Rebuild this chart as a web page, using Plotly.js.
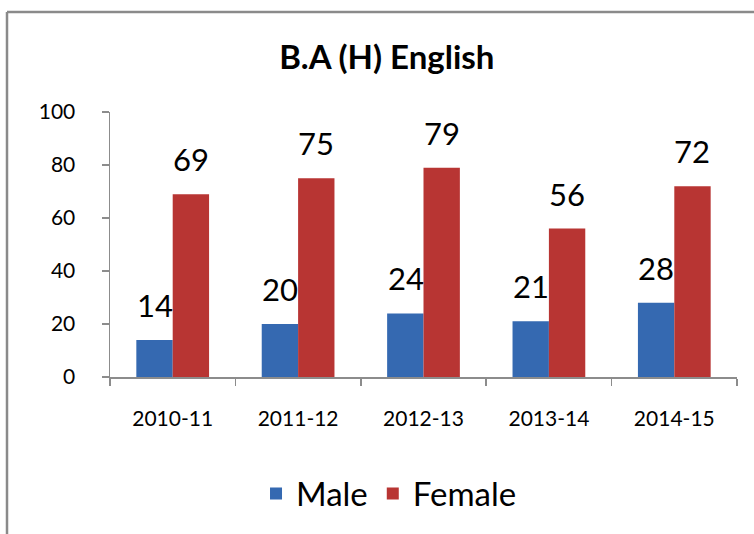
<!DOCTYPE html>
<html>
<head>
<meta charset="utf-8">
<script src="https://cdn.plot.ly/plotly-3.0.1.min.js"></script>
<style>html,body{margin:0;padding:0;background:#fff;}#chart{width:754px;height:534px;}</style>
</head>
<body>
<div id="chart"></div>
<script>
var categories = ["2010-11", "2011-12", "2012-13", "2013-14", "2014-15"];
var maleValues = [14, 20, 24, 21, 28];
var femaleValues = [69, 75, 79, 56, 72];
var yTicks = [0, 20, 40, 60, 80, 100];

var FONT = "Lato, 'Open Sans', sans-serif";

var traces = [
  {
    type: "bar", name: "Male", x: categories, y: maleValues,
    marker: {color: "#3569b1"}
  },
  {
    type: "bar", name: "Female", x: categories, y: femaleValues,
    marker: {color: "#b83533"}
  }
];

var annotations = [];
categories.forEach(function (c, i) {
  annotations.push({x: c, y: maleValues[i], xref: "x", yref: "y", text: String(maleValues[i]),
    showarrow: false, xshift: -18, yshift: 14, yanchor: "bottom", xanchor: "center",
    font: {size: 31, color: "#000", family: FONT}});
  annotations.push({x: c, y: femaleValues[i], xref: "x", yref: "y", text: String(femaleValues[i]),
    showarrow: false, xshift: 18, yshift: 14, yanchor: "bottom", xanchor: "center",
    font: {size: 31, color: "#000", family: FONT}});
});

var layout = {
  width: 754, height: 534,
  margin: {l: 110, r: 17, t: 112, b: 157},
  paper_bgcolor: "#fff", plot_bgcolor: "#fff",
  font: {family: FONT, color: "#000"},
  title: {text: "<b>B.A (H) English</b>", font: {size: 33, family: FONT, color: "#000"},
          x: 0.513, xanchor: "center", y: 1 - 57/534, yref: "container", yanchor: "middle"},
  barmode: "group", bargap: 0.42, bargroupgap: 0,
  showlegend: true,
  legend: {orientation: "h", x: 0.445, xanchor: "center", y: -0.44, yanchor: "middle",
           font: {size: 33, family: FONT, color: "#000"}, itemwidth: 30, traceorder: "normal"},
  annotations: annotations,
  xaxis: {
    type: "category", showline: true, linecolor: "#8c8c8c", linewidth: 1.5,
    ticks: "outside", tickson: "boundaries", ticklen: 7, tickcolor: "#8c8c8c", tickwidth: 1.5,
    tickfont: {size: 21, family: FONT, color: "#000"}, ticklabelstandoff: 22,
    showgrid: false, zeroline: false
  },
  yaxis: {
    range: [0, 100], tickvals: yTicks, showline: true, linecolor: "#8c8c8c", linewidth: 1.5,
    ticks: "outside", ticklen: 7, tickcolor: "#8c8c8c", tickwidth: 1.5,
    tickfont: {size: 21, family: FONT, color: "#000"}, ticklabelstandoff: 22,
    showgrid: false, zeroline: false
  },
  shapes: [
    {type: "line", xref: "paper", yref: "paper", x0: (7-110)/627, x1: (754-110)/627,
     y0: (377-12)/265, y1: (377-12)/265, line: {color: "#8a8a8a", width: 2.5}},
    {type: "line", xref: "paper", yref: "paper", x0: (7-110)/627, x1: (7-110)/627,
     y0: (377-12)/265, y1: (377-540)/265, line: {color: "#8a8a8a", width: 2.5}}
  ]
};

Plotly.newPlot("chart", traces, layout, {displayModeBar: false, staticPlot: true});
</script>
</body>
</html>
